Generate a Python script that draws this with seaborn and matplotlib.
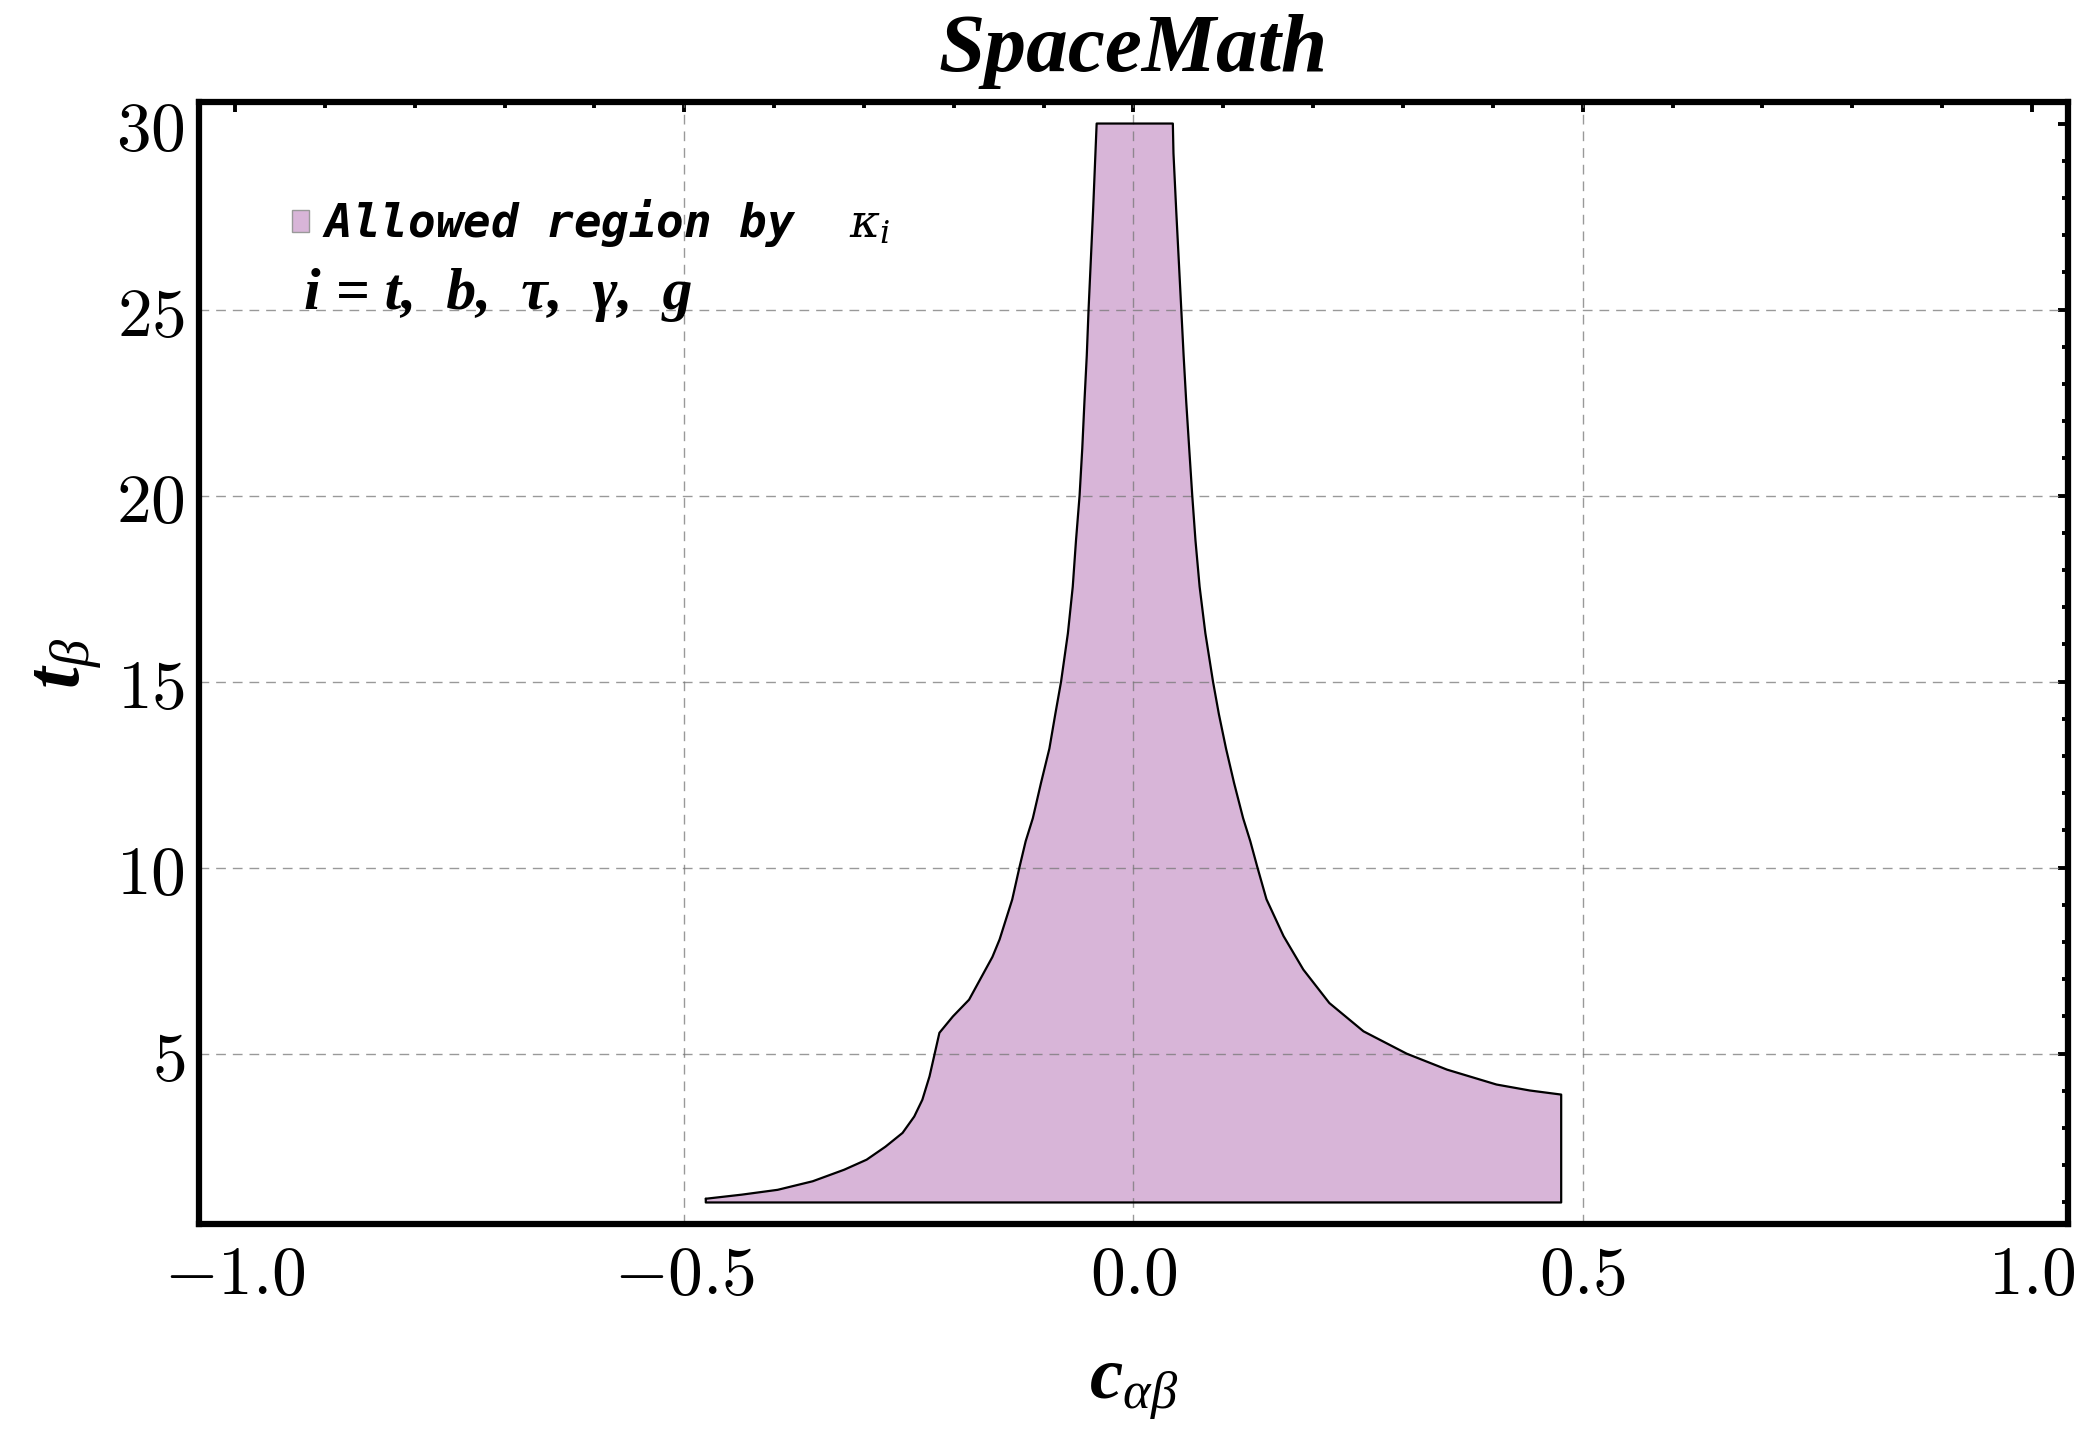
import numpy as np
import pandas as pd
import seaborn as sns
import matplotlib.pyplot as plt
from matplotlib.patches import Patch
from matplotlib.ticker import FuncFormatter, MultipleLocator

# Rand der erlaubten Region
left_x = [-0.476, -0.436, -0.396, -0.357, -0.322, -0.297, -0.276, -0.257, -0.244,
          -0.235, -0.227, -0.222, -0.216, -0.201, -0.183, -0.157, -0.149, -0.135,
          -0.127, -0.120, -0.112, -0.103, -0.0936, -0.087, -0.0806, -0.073, -0.0676,
          -0.064, -0.060, -0.057, -0.0546, -0.052, -0.050, -0.045, -0.041]
left_y = [1.10, 1.21, 1.34, 1.57, 1.88, 2.15, 2.50, 2.87, 3.31,
          3.76, 4.39, 4.92, 5.56, 6.00, 6.45, 7.60, 8.07, 9.14,
          10.0, 10.71, 11.33, 12.27, 13.2, 14.13, 15.0, 16.3, 17.55,
          18.79, 20.0, 21.27, 22.52, 23.76, 25.0, 27.64, 30.0]
right_x = [0.0438, 0.0445, 0.0476, 0.0532, 0.0558, 0.0587, 0.062, 0.0654, 0.069,
           0.0736, 0.080, 0.0885, 0.095, 0.103, 0.112, 0.122, 0.130,
           0.138, 0.148, 0.167, 0.189, 0.218, 0.256, 0.304, 0.349, 0.404, 0.441, 0.476]
right_y = [30.0, 29.2, 27.64, 25.0, 23.76, 22.52, 21.27, 20.0, 18.79,
           17.55, 16.3, 15.0, 14.13, 13.2, 12.27, 11.33, 10.71,
           10.0, 9.15, 8.16, 7.26, 6.36, 5.60, 5.0, 4.57, 4.17, 4.01, 3.90]
y_bottom = 1.0

grid_x = [-0.5, 0.0, 0.5]
grid_y = [5, 10, 15, 20, 25]

fill_color = '#d8b5d8'

# Polygon zusammensetzen: links hoch, oben rueber, rechts runter, unten zurueck
poly = pd.DataFrame({
    'c': left_x + right_x + [right_x[-1], left_x[0], left_x[0]],
    't': left_y + right_y + [y_bottom, y_bottom, left_y[0]],
})

sns.set_style('white')
plt.rcParams['font.family'] = ['DejaVu Sans']
plt.rcParams['text.color'] = 'black'
plt.rcParams['axes.labelcolor'] = 'black'
plt.rcParams['xtick.color'] = 'black'
plt.rcParams['ytick.color'] = 'black'
plt.rcParams['mathtext.fontset'] = 'cm'
plt.rcParams['mathtext.rm'] = 'Liberation Serif'
plt.rcParams['mathtext.it'] = 'Liberation Serif:italic'
plt.rcParams['mathtext.bf'] = 'Liberation Serif:italic:bold'
plt.rcParams['mathtext.sf'] = 'DejaVu Serif:italic'

fig = plt.figure(figsize=(20.84, 14.36), dpi=100)
ax = fig.add_axes([0.0955, 0.1476, 0.8968, 0.7814])

ax.fill(poly['c'], poly['t'], color=fill_color, zorder=1, lw=0)
sns.lineplot(data=poly, x='c', y='t', sort=False, estimator=None,
             color='black', lw=1.6, ax=ax, zorder=3)
ax.lines[-1].set_solid_joinstyle('round')

for gx in grid_x:
    ax.axvline(gx, color='#777777', lw=1.0, ls=(0, (7, 5)), alpha=0.75, zorder=2)
for gy in grid_y:
    ax.axhline(gy, color='#777777', lw=1.0, ls=(0, (7, 5)), alpha=0.75, zorder=2)

ax.set_xlim(-1.04, 1.04)
ax.set_ylim(0.42, 30.58)
ax.xaxis.set_major_locator(MultipleLocator(0.5))
ax.xaxis.set_minor_locator(MultipleLocator(0.1))
ax.yaxis.set_major_locator(MultipleLocator(5))
ax.yaxis.set_minor_locator(MultipleLocator(1))
ax.xaxis.set_major_formatter(FuncFormatter(lambda v, p: f'${v:.1f}$'))
ax.yaxis.set_major_formatter(FuncFormatter(lambda v, p: f'${v:.0f}$'))

ax.tick_params(which='both', direction='in', top=True, right=True,
               color='black', width=2.8, labelsize=50)
ax.tick_params(which='major', length=7)
ax.tick_params(which='minor', length=4)
ax.tick_params(axis='x', pad=12)
ax.tick_params(axis='y', pad=10)

for s in ax.spines.values():
    s.set_linewidth(4.5)
    s.set_color('black')

ax.set_title('SpaceMath', fontfamily='Liberation Serif', fontweight='bold',
             fontstyle='italic', fontsize=60, pad=22)
ax.set_xlabel(r'$\mathbf{c}_{\alpha\beta}$', fontsize=54, labelpad=30,
              math_fontfamily='custom')
ax.set_ylabel(r'$\mathbf{t}_{\beta}$', fontsize=56, labelpad=9,
              math_fontfamily='custom')

leg = ax.legend(handles=[Patch(facecolor=fill_color, edgecolor='#999999', lw=1)],
                labels=[r'Allowed region by  $\mathsf{\kappa}_{\mathsf{i}}$'],
                loc='center left', bbox_to_anchor=(0.050, 0.892),
                frameon=False, handlelength=0.35, handleheight=0.35,
                handletextpad=0.3, borderpad=0, borderaxespad=0,
                prop={'family': 'DejaVu Sans Mono', 'weight': 'bold',
                      'style': 'oblique', 'size': 33})
for txt in leg.get_texts():
    txt.set_math_fontfamily('custom')

ax.text(0.056, 0.828, 'i = t,  b,  τ,  γ,  g', transform=ax.transAxes,
        fontfamily='Liberation Serif', fontweight='bold', fontstyle='italic',
        fontsize=43, va='center', ha='left')

fig.savefig('out.png', dpi=100)
